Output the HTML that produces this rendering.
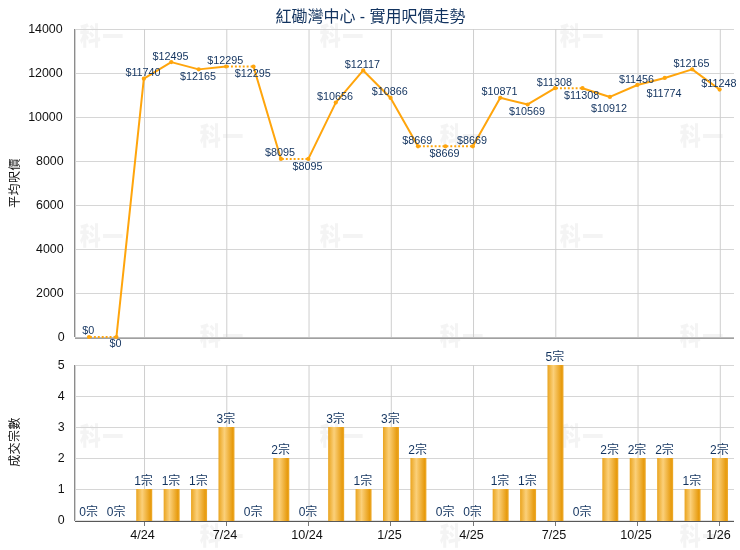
<!DOCTYPE html>
<html lang="zh-Hant">
<head>
<meta charset="utf-8">
<title>紅磡灣中心 - 實用呎價走勢</title>
<style>
html,body{margin:0;padding:0;background:#fff;}
body{width:740px;height:550px;overflow:hidden;}
svg{display:block;}
.ax{font-family:"Liberation Sans",sans-serif;font-size:12px;fill:#111;}
.vl{font-family:"Liberation Sans","Noto Sans CJK TC",sans-serif;font-size:10.8px;fill:#12335f;}
.cl{font-family:"Liberation Sans","Noto Sans CJK TC",sans-serif;font-size:12px;fill:#12335f;font-weight:400;}
.ti{font-family:"Liberation Sans","Noto Sans CJK TC",sans-serif;font-size:16px;fill:#12335f;font-weight:400;}
.yt{letter-spacing:0.4px;font-family:"Liberation Sans","Noto Sans CJK TC",sans-serif;font-size:12px;fill:#111;font-weight:400;}
.wm{font-family:"Liberation Sans","Noto Sans CJK TC",sans-serif;font-size:21px;font-weight:900;fill:#f4f4f4;}
</style>
</head>
<body>
<svg width="740" height="550" viewBox="0 0 740 550">
<defs>
<linearGradient id="bg" x1="0" y1="0" x2="1" y2="0">
<stop offset="0" stop-color="#eaa41e"/>
<stop offset="0.37" stop-color="#fbd07a"/>
<stop offset="0.88" stop-color="#e79b0e"/>
<stop offset="1" stop-color="#eeac30"/>
</linearGradient>
</defs>
<rect x="0" y="0" width="740" height="550" fill="#ffffff"/>

<g class="wm">
<text transform="translate(101.5,35.5) scale(1,1.2)" x="0" y="7.6" text-anchor="middle">科<tspan dx="1.5" dy="0.9">一</tspan></text>
<text transform="translate(341.5,35.5) scale(1,1.2)" x="0" y="7.6" text-anchor="middle">科<tspan dx="1.5" dy="0.9">一</tspan></text>
<text transform="translate(581.5,35.5) scale(1,1.2)" x="0" y="7.6" text-anchor="middle">科<tspan dx="1.5" dy="0.9">一</tspan></text>
<text transform="translate(101.5,235.5) scale(1,1.2)" x="0" y="7.6" text-anchor="middle">科<tspan dx="1.5" dy="0.9">一</tspan></text>
<text transform="translate(341.5,235.5) scale(1,1.2)" x="0" y="7.6" text-anchor="middle">科<tspan dx="1.5" dy="0.9">一</tspan></text>
<text transform="translate(581.5,235.5) scale(1,1.2)" x="0" y="7.6" text-anchor="middle">科<tspan dx="1.5" dy="0.9">一</tspan></text>
<text transform="translate(101.5,435.5) scale(1,1.2)" x="0" y="7.6" text-anchor="middle">科<tspan dx="1.5" dy="0.9">一</tspan></text>
<text transform="translate(341.5,435.5) scale(1,1.2)" x="0" y="7.6" text-anchor="middle">科<tspan dx="1.5" dy="0.9">一</tspan></text>
<text transform="translate(581.5,435.5) scale(1,1.2)" x="0" y="7.6" text-anchor="middle">科<tspan dx="1.5" dy="0.9">一</tspan></text>
<text transform="translate(221.5,135.5) scale(1,1.2)" x="0" y="7.6" text-anchor="middle">科<tspan dx="1.5" dy="0.9">一</tspan></text>
<text transform="translate(461.5,135.5) scale(1,1.2)" x="0" y="7.6" text-anchor="middle">科<tspan dx="1.5" dy="0.9">一</tspan></text>
<text transform="translate(701.5,135.5) scale(1,1.2)" x="0" y="7.6" text-anchor="middle">科<tspan dx="1.5" dy="0.9">一</tspan></text>
<text transform="translate(221.5,335.5) scale(1,1.2)" x="0" y="7.6" text-anchor="middle">科<tspan dx="1.5" dy="0.9">一</tspan></text>
<text transform="translate(461.5,335.5) scale(1,1.2)" x="0" y="7.6" text-anchor="middle">科<tspan dx="1.5" dy="0.9">一</tspan></text>
<text transform="translate(701.5,335.5) scale(1,1.2)" x="0" y="7.6" text-anchor="middle">科<tspan dx="1.5" dy="0.9">一</tspan></text>
<text transform="translate(221.5,535.5) scale(1,1.2)" x="0" y="7.6" text-anchor="middle">科<tspan dx="1.5" dy="0.9">一</tspan></text>
<text transform="translate(461.5,535.5) scale(1,1.2)" x="0" y="7.6" text-anchor="middle">科<tspan dx="1.5" dy="0.9">一</tspan></text>
<text transform="translate(701.5,535.5) scale(1,1.2)" x="0" y="7.6" text-anchor="middle">科<tspan dx="1.5" dy="0.9">一</tspan></text>
</g>
<g shape-rendering="crispEdges" stroke="#d6d6d6" stroke-width="1">
<line x1="76" x2="734" y1="29.5" y2="29.5"/>
<line x1="76" x2="734" y1="73.5" y2="73.5"/>
<line x1="76" x2="734" y1="117.5" y2="117.5"/>
<line x1="76" x2="734" y1="161.5" y2="161.5"/>
<line x1="76" x2="734" y1="205.5" y2="205.5"/>
<line x1="76" x2="734" y1="249.5" y2="249.5"/>
<line x1="76" x2="734" y1="293.5" y2="293.5"/>
<line x1="76" x2="734" y1="365.5" y2="365.5"/>
<line x1="76" x2="734" y1="396.5" y2="396.5"/>
<line x1="76" x2="734" y1="427.5" y2="427.5"/>
<line x1="76" x2="734" y1="458.5" y2="458.5"/>
<line x1="76" x2="734" y1="489.5" y2="489.5"/>
</g>
<g stroke="#cecece" stroke-width="1">
<line x1="144.54" x2="144.54" y1="29" y2="337"/>
<line x1="144.54" x2="144.54" y1="365" y2="520"/>
<line x1="226.79" x2="226.79" y1="29" y2="337"/>
<line x1="226.79" x2="226.79" y1="365" y2="520"/>
<line x1="309.04" x2="309.04" y1="29" y2="337"/>
<line x1="309.04" x2="309.04" y1="365" y2="520"/>
<line x1="391.29" x2="391.29" y1="29" y2="337"/>
<line x1="391.29" x2="391.29" y1="365" y2="520"/>
<line x1="473.54" x2="473.54" y1="29" y2="337"/>
<line x1="473.54" x2="473.54" y1="365" y2="520"/>
<line x1="555.79" x2="555.79" y1="29" y2="337"/>
<line x1="555.79" x2="555.79" y1="365" y2="520"/>
<line x1="638.04" x2="638.04" y1="29" y2="337"/>
<line x1="638.04" x2="638.04" y1="365" y2="520"/>
<line x1="720.29" x2="720.29" y1="29" y2="337"/>
<line x1="720.29" x2="720.29" y1="365" y2="520"/>
</g>
<g shape-rendering="crispEdges" fill="#777">
<rect x="144" y="522" width="1" height="4"/>
<rect x="226" y="522" width="1" height="4"/>
<rect x="308" y="522" width="1" height="4"/>
<rect x="390" y="522" width="1" height="4"/>
<rect x="473" y="522" width="1" height="4"/>
<rect x="555" y="522" width="1" height="4"/>
<rect x="637" y="522" width="1" height="4"/>
<rect x="719" y="522" width="1" height="4"/>
</g>
<g shape-rendering="crispEdges">
<rect x="74" y="29" width="1" height="308" fill="#8c8c8c"/><rect x="75" y="29" width="1" height="308" fill="#d2d2d2"/>
<rect x="75" y="337" width="659" height="1" fill="#bdbdbd"/><rect x="75" y="338" width="659" height="1" fill="#a0a0a0"/>
<rect x="74" y="365" width="1" height="156" fill="#8c8c8c"/><rect x="75" y="365" width="1" height="156" fill="#d2d2d2"/>
<rect x="75" y="520" width="659" height="1" fill="#e2e2e2"/><rect x="75" y="521" width="659" height="1" fill="#585858"/>
</g>
<g class="ax" text-anchor="end" style="font-size:12.4px">
<text x="62.6" y="32.8">14000</text>
<text x="62.6" y="76.8">12000</text>
<text x="62.6" y="120.8">10000</text>
<text x="63.6" y="164.8">8000</text>
<text x="63.6" y="208.8">6000</text>
<text x="63.6" y="252.8">4000</text>
<text x="63.6" y="296.8">2000</text>
<text x="64.6" y="340.8">0</text>
<text x="64.6" y="368.8">5</text>
<text x="64.6" y="399.8">4</text>
<text x="64.6" y="430.8">3</text>
<text x="64.6" y="461.8">2</text>
<text x="64.6" y="492.8">1</text>
<text x="64.6" y="523.8">0</text>
</g>
<g class="ax" text-anchor="middle" style="font-size:12.6px">
<text x="142.6" y="539">4/24</text>
<text x="224.9" y="539">7/24</text>
<text x="307.1" y="539">10/24</text>
<text x="389.4" y="539">1/25</text>
<text x="471.6" y="539">4/25</text>
<text x="553.9" y="539">7/25</text>
<text x="636.1" y="539">10/25</text>
<text x="718.4" y="539">1/26</text>
</g>
<text class="yt" text-anchor="middle" transform="translate(19,183) rotate(-90)">平均呎價</text>
<text class="yt" text-anchor="middle" transform="translate(19,442) rotate(-90)">成交宗數</text>
<text class="ti" text-anchor="middle" x="370.5" y="21.5">紅磡灣中心 - 實用呎價走勢</text>
<g>
<rect x="136.24" y="489" width="16" height="32" fill="url(#bg)"/>
<rect x="163.66" y="489" width="16" height="32" fill="url(#bg)"/>
<rect x="191.07" y="489" width="16" height="32" fill="url(#bg)"/>
<rect x="218.49" y="427" width="16" height="94" fill="url(#bg)"/>
<rect x="273.32" y="458" width="16" height="63" fill="url(#bg)"/>
<rect x="328.16" y="427" width="16" height="94" fill="url(#bg)"/>
<rect x="355.57" y="489" width="16" height="32" fill="url(#bg)"/>
<rect x="382.99" y="427" width="16" height="94" fill="url(#bg)"/>
<rect x="410.41" y="458" width="16" height="63" fill="url(#bg)"/>
<rect x="492.66" y="489" width="16" height="32" fill="url(#bg)"/>
<rect x="520.08" y="489" width="16" height="32" fill="url(#bg)"/>
<rect x="547.49" y="365" width="16" height="156" fill="url(#bg)"/>
<rect x="602.33" y="458" width="16" height="63" fill="url(#bg)"/>
<rect x="629.74" y="458" width="16" height="63" fill="url(#bg)"/>
<rect x="657.16" y="458" width="16" height="63" fill="url(#bg)"/>
<rect x="684.58" y="489" width="16" height="32" fill="url(#bg)"/>
<rect x="711.99" y="458" width="16" height="63" fill="url(#bg)"/>
</g>
<g class="cl" text-anchor="middle">
<text x="88.7" y="516">0宗</text>
<text x="116.1" y="516">0宗</text>
<text x="143.5" y="485">1宗</text>
<text x="171.0" y="485">1宗</text>
<text x="198.4" y="485">1宗</text>
<text x="225.8" y="423">3宗</text>
<text x="253.2" y="516">0宗</text>
<text x="280.6" y="454">2宗</text>
<text x="308.0" y="516">0宗</text>
<text x="335.5" y="423">3宗</text>
<text x="362.9" y="485">1宗</text>
<text x="390.3" y="423">3宗</text>
<text x="417.7" y="454">2宗</text>
<text x="445.1" y="516">0宗</text>
<text x="472.5" y="516">0宗</text>
<text x="500.0" y="485">1宗</text>
<text x="527.4" y="485">1宗</text>
<text x="554.8" y="361">5宗</text>
<text x="582.2" y="516">0宗</text>
<text x="609.6" y="454">2宗</text>
<text x="637.0" y="454">2宗</text>
<text x="664.5" y="454">2宗</text>
<text x="691.9" y="485">1宗</text>
<text x="719.3" y="454">2宗</text>
</g>
<g fill="none" stroke="#ffa50c" stroke-width="2" stroke-linejoin="round" stroke-linecap="round">
<line x1="89.01" y1="337.00" x2="116.42" y2="337.00" stroke-linecap="butt" stroke-dasharray="1.9 2.0167" stroke-dashoffset="-1"/>
<line x1="116.42" y1="337.00" x2="143.84" y2="78.72"/>
<line x1="143.84" y1="78.72" x2="171.26" y2="62.11"/>
<line x1="171.26" y1="62.11" x2="198.68" y2="69.37"/>
<line x1="198.68" y1="69.37" x2="226.09" y2="66.51"/>
<line x1="226.09" y1="66.51" x2="253.51" y2="66.51" stroke-linecap="butt" stroke-dasharray="1.9 2.0167" stroke-dashoffset="-1"/>
<line x1="253.51" y1="66.51" x2="280.93" y2="158.91"/>
<line x1="280.93" y1="158.91" x2="308.34" y2="158.91" stroke-linecap="butt" stroke-dasharray="1.9 2.0167" stroke-dashoffset="-1"/>
<line x1="308.34" y1="158.91" x2="335.76" y2="102.57"/>
<line x1="335.76" y1="102.57" x2="363.18" y2="70.43"/>
<line x1="363.18" y1="70.43" x2="390.59" y2="97.95"/>
<line x1="390.59" y1="97.95" x2="418.01" y2="146.28"/>
<line x1="418.01" y1="146.28" x2="445.43" y2="146.28" stroke-linecap="butt" stroke-dasharray="1.9 2.0167" stroke-dashoffset="-1"/>
<line x1="445.43" y1="146.28" x2="472.84" y2="146.28" stroke-linecap="butt" stroke-dasharray="1.9 2.0167" stroke-dashoffset="-1"/>
<line x1="472.84" y1="146.28" x2="500.26" y2="97.84"/>
<line x1="500.26" y1="97.84" x2="527.67" y2="104.48"/>
<line x1="527.67" y1="104.48" x2="555.09" y2="88.22"/>
<line x1="555.09" y1="88.22" x2="582.51" y2="88.22" stroke-linecap="butt" stroke-dasharray="1.9 2.0167" stroke-dashoffset="-1"/>
<line x1="582.51" y1="88.22" x2="609.92" y2="96.94"/>
<line x1="609.92" y1="96.94" x2="637.34" y2="84.97"/>
<line x1="637.34" y1="84.97" x2="664.76" y2="77.97"/>
<line x1="664.76" y1="77.97" x2="692.17" y2="69.37"/>
<line x1="692.17" y1="69.37" x2="719.59" y2="89.54"/>
</g>
<g fill="#ffa50c">
<circle cx="89.01" cy="337.00" r="2.1"/>
<circle cx="116.42" cy="337.00" r="2.1"/>
<circle cx="143.84" cy="78.72" r="2.1"/>
<circle cx="171.26" cy="62.11" r="2.1"/>
<circle cx="198.68" cy="69.37" r="2.1"/>
<circle cx="226.09" cy="66.51" r="2.1"/>
<circle cx="253.51" cy="66.51" r="2.1"/>
<circle cx="280.93" cy="158.91" r="2.1"/>
<circle cx="308.34" cy="158.91" r="2.1"/>
<circle cx="335.76" cy="102.57" r="2.1"/>
<circle cx="363.18" cy="70.43" r="2.1"/>
<circle cx="390.59" cy="97.95" r="2.1"/>
<circle cx="418.01" cy="146.28" r="2.1"/>
<circle cx="445.43" cy="146.28" r="2.1"/>
<circle cx="472.84" cy="146.28" r="2.1"/>
<circle cx="500.26" cy="97.84" r="2.1"/>
<circle cx="527.67" cy="104.48" r="2.1"/>
<circle cx="555.09" cy="88.22" r="2.1"/>
<circle cx="582.51" cy="88.22" r="2.1"/>
<circle cx="609.92" cy="96.94" r="2.1"/>
<circle cx="637.34" cy="84.97" r="2.1"/>
<circle cx="664.76" cy="77.97" r="2.1"/>
<circle cx="692.17" cy="69.37" r="2.1"/>
<circle cx="719.59" cy="89.54" r="2.1"/>
</g>
<g class="vl" text-anchor="middle">
<text x="88.2" y="333.8">$0</text>
<text x="115.6" y="346.6">$0</text>
<text x="143.0" y="76.2">$11740</text>
<text x="170.5" y="59.6">$12495</text>
<text x="197.9" y="80.1">$12165</text>
<text x="225.3" y="64.0">$12295</text>
<text x="252.7" y="77.2">$12295</text>
<text x="280.1" y="156.4">$8095</text>
<text x="307.5" y="169.6">$8095</text>
<text x="335.0" y="100.1">$10656</text>
<text x="362.4" y="67.9">$12117</text>
<text x="389.8" y="95.4">$10866</text>
<text x="417.2" y="143.8">$8669</text>
<text x="444.6" y="157.0">$8669</text>
<text x="472.0" y="143.8">$8669</text>
<text x="499.5" y="95.3">$10871</text>
<text x="526.9" y="115.2">$10569</text>
<text x="554.3" y="85.7">$11308</text>
<text x="581.7" y="98.9">$11308</text>
<text x="609.1" y="112.2">$10912</text>
<text x="636.5" y="82.5">$11456</text>
<text x="664.0" y="96.5">$11774</text>
<text x="691.4" y="66.9">$12165</text>
<text x="718.8" y="87.0">$11248</text>
</g>
</svg>
</body>
</html>
